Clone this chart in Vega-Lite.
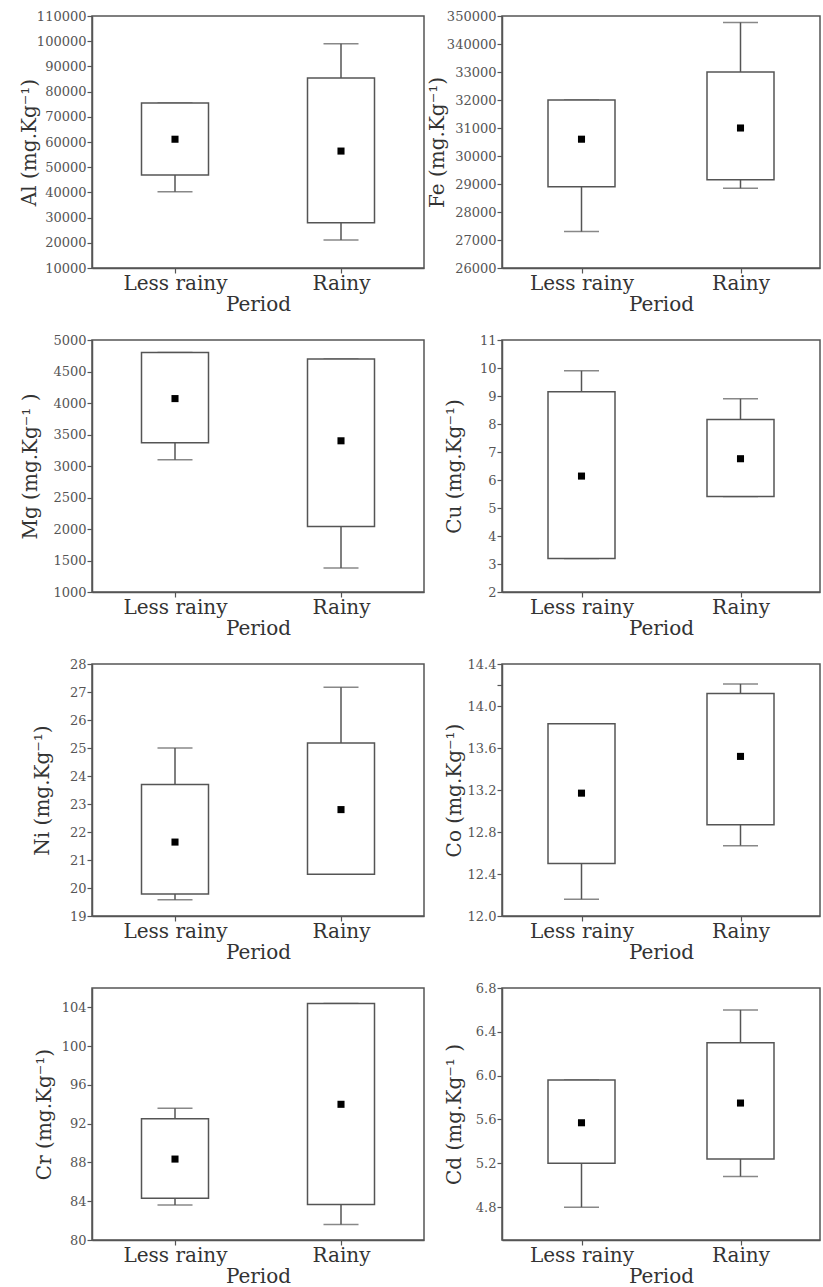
{
  "$schema": "https://vega.github.io/schema/vega-lite/v6.json",
  "padding": {"left": 18, "top": 9, "right": 2, "bottom": 2},
  "background": "white",
  "datasets": {
    "stats": [
      {"element": "Al", "period": "Less rainy", "min": 40300, "q1": 46900, "mean": 61100, "q3": 75500, "max": 75500},
      {"element": "Al", "period": "Rainy", "min": 21100, "q1": 28000, "mean": 56400, "q3": 85400, "max": 99000},
      {"element": "Fe", "period": "Less rainy", "min": 27300, "q1": 28900, "mean": 30600, "q3": 32000, "max": 32000},
      {"element": "Fe", "period": "Rainy", "min": 28850, "q1": 29150, "mean": 31000, "q3": 33000, "max": 34770},
      {"element": "Mg", "period": "Less rainy", "min": 3100, "q1": 3370, "mean": 4070, "q3": 4800, "max": 4800},
      {"element": "Mg", "period": "Rainy", "min": 1380, "q1": 2040, "mean": 3400, "q3": 4700, "max": 4700},
      {"element": "Cu", "period": "Less rainy", "min": 3.2, "q1": 3.2, "mean": 6.14, "q3": 9.15, "max": 9.9},
      {"element": "Cu", "period": "Rainy", "min": 5.41, "q1": 5.41, "mean": 6.76, "q3": 8.16, "max": 8.9},
      {"element": "Ni", "period": "Less rainy", "min": 19.58, "q1": 19.79, "mean": 21.64, "q3": 23.7, "max": 25.0},
      {"element": "Ni", "period": "Rainy", "min": 20.49, "q1": 20.49, "mean": 22.8, "q3": 25.18, "max": 27.17},
      {"element": "Co", "period": "Less rainy", "min": 12.16, "q1": 12.5, "mean": 13.17, "q3": 13.83, "max": 13.83},
      {"element": "Co", "period": "Rainy", "min": 12.67, "q1": 12.87, "mean": 13.52, "q3": 14.12, "max": 14.21},
      {"element": "Cr", "period": "Less rainy", "min": 83.6, "q1": 84.3, "mean": 88.35, "q3": 92.5, "max": 93.6},
      {"element": "Cr", "period": "Rainy", "min": 81.6, "q1": 83.65, "mean": 94.0, "q3": 104.4, "max": 104.4},
      {"element": "Cd", "period": "Less rainy", "min": 4.8, "q1": 5.2, "mean": 5.57, "q3": 5.96, "max": 5.96},
      {"element": "Cd", "period": "Rainy", "min": 5.08, "q1": 5.24, "mean": 5.75, "q3": 6.3, "max": 6.6}
    ]
  },
  "data": {"name": "stats"},
  "columns": 2,
  "bounds": "flush",
  "spacing": {"row": 72, "column": 78},
  "concat": [
    {
      "width": 332, "height": 252,
      "transform": [{"filter": "datum.element === 'Al'"}],
      "encoding": {"x": {"field": "period", "type": "nominal", "sort": ["Less rainy", "Rainy"], "scale": {"type": "point", "padding": 0.5}, "title": "Period"}},
      "layer": [
        {"mark": {"type": "rule", "color": "#555", "strokeWidth": 1.5},
         "encoding": {"y": {"field": "min", "type": "quantitative", "scale": {"domain": [10000, 110000], "nice": false, "zero": false}, "title": "Al (mg.Kg⁻¹)",
           "axis": {"values": [10000, 20000, 30000, 40000, 50000, 60000, 70000, 80000, 90000, 100000, 110000], "tickCount": 30, "format": "d", "titleX": -63, "titleY": 126}},
           "y2": {"field": "max"}}},
        {"mark": {"type": "tick", "color": "#555", "size": 35, "thickness": 1.5}, "encoding": {"y": {"field": "min", "type": "quantitative"}}},
        {"mark": {"type": "tick", "color": "#555", "size": 35, "thickness": 1.5}, "encoding": {"y": {"field": "max", "type": "quantitative"}}},
        {"mark": {"type": "bar", "width": 67, "fill": "white", "stroke": "#555", "strokeWidth": 1.5}, "encoding": {"y": {"field": "q1", "type": "quantitative"}, "y2": {"field": "q3"}}},
        {"mark": {"type": "point", "shape": "square", "filled": true, "color": "black", "size": 50, "opacity": 1}, "encoding": {"y": {"field": "mean", "type": "quantitative"}}}
      ]
    },
    {
      "width": 318, "height": 252,
      "transform": [{"filter": "datum.element === 'Fe'"}],
      "encoding": {"x": {"field": "period", "type": "nominal", "sort": ["Less rainy", "Rainy"], "scale": {"type": "point", "padding": 0.5}, "title": "Period"}},
      "layer": [
        {"mark": {"type": "rule", "color": "#555", "strokeWidth": 1.5},
         "encoding": {"y": {"field": "min", "type": "quantitative", "scale": {"domain": [26000, 35000], "nice": false, "zero": false}, "title": "Fe (mg.Kg⁻¹)",
           "axis": {"values": [26000, 27000, 28000, 29000, 30000, 31000, 32000, 33000, 34000, 35000], "tickCount": 30, "format": "d", "labelExpr": "datum.value == 34000 ? '340000' : datum.value == 35000 ? '350000' : datum.label", "titleX": -65, "titleY": 126}},
           "y2": {"field": "max"}}},
        {"mark": {"type": "tick", "color": "#555", "size": 35, "thickness": 1.5}, "encoding": {"y": {"field": "min", "type": "quantitative"}}},
        {"mark": {"type": "tick", "color": "#555", "size": 35, "thickness": 1.5}, "encoding": {"y": {"field": "max", "type": "quantitative"}}},
        {"mark": {"type": "bar", "width": 67, "fill": "white", "stroke": "#555", "strokeWidth": 1.5}, "encoding": {"y": {"field": "q1", "type": "quantitative"}, "y2": {"field": "q3"}}},
        {"mark": {"type": "point", "shape": "square", "filled": true, "color": "black", "size": 50, "opacity": 1}, "encoding": {"y": {"field": "mean", "type": "quantitative"}}}
      ]
    },
    {
      "width": 332, "height": 252,
      "transform": [{"filter": "datum.element === 'Mg'"}],
      "encoding": {"x": {"field": "period", "type": "nominal", "sort": ["Less rainy", "Rainy"], "scale": {"type": "point", "padding": 0.5}, "title": "Period"}},
      "layer": [
        {"mark": {"type": "rule", "color": "#555", "strokeWidth": 1.5},
         "encoding": {"y": {"field": "min", "type": "quantitative", "scale": {"domain": [1000, 5000], "nice": false, "zero": false}, "title": "Mg (mg.Kg⁻¹ )",
           "axis": {"values": [1000, 1500, 2000, 2500, 3000, 3500, 4000, 4500, 5000], "tickCount": 30, "format": "d", "titleX": -62, "titleY": 126}},
           "y2": {"field": "max"}}},
        {"mark": {"type": "tick", "color": "#555", "size": 35, "thickness": 1.5}, "encoding": {"y": {"field": "min", "type": "quantitative"}}},
        {"mark": {"type": "tick", "color": "#555", "size": 35, "thickness": 1.5}, "encoding": {"y": {"field": "max", "type": "quantitative"}}},
        {"mark": {"type": "bar", "width": 67, "fill": "white", "stroke": "#555", "strokeWidth": 1.5}, "encoding": {"y": {"field": "q1", "type": "quantitative"}, "y2": {"field": "q3"}}},
        {"mark": {"type": "point", "shape": "square", "filled": true, "color": "black", "size": 50, "opacity": 1}, "encoding": {"y": {"field": "mean", "type": "quantitative"}}}
      ]
    },
    {
      "width": 318, "height": 252,
      "transform": [{"filter": "datum.element === 'Cu'"}],
      "encoding": {"x": {"field": "period", "type": "nominal", "sort": ["Less rainy", "Rainy"], "scale": {"type": "point", "padding": 0.5}, "title": "Period"}},
      "layer": [
        {"mark": {"type": "rule", "color": "#555", "strokeWidth": 1.5},
         "encoding": {"y": {"field": "min", "type": "quantitative", "scale": {"domain": [2, 11], "nice": false, "zero": false}, "title": "Cu (mg.Kg⁻¹)",
           "axis": {"values": [2, 3, 4, 5, 6, 7, 8, 9, 10, 11], "tickCount": 30, "format": "d", "titleX": -48, "titleY": 126}},
           "y2": {"field": "max"}}},
        {"mark": {"type": "tick", "color": "#555", "size": 35, "thickness": 1.5}, "encoding": {"y": {"field": "min", "type": "quantitative"}}},
        {"mark": {"type": "tick", "color": "#555", "size": 35, "thickness": 1.5}, "encoding": {"y": {"field": "max", "type": "quantitative"}}},
        {"mark": {"type": "bar", "width": 67, "fill": "white", "stroke": "#555", "strokeWidth": 1.5}, "encoding": {"y": {"field": "q1", "type": "quantitative"}, "y2": {"field": "q3"}}},
        {"mark": {"type": "point", "shape": "square", "filled": true, "color": "black", "size": 50, "opacity": 1}, "encoding": {"y": {"field": "mean", "type": "quantitative"}}}
      ]
    },
    {
      "width": 332, "height": 252,
      "transform": [{"filter": "datum.element === 'Ni'"}],
      "encoding": {"x": {"field": "period", "type": "nominal", "sort": ["Less rainy", "Rainy"], "scale": {"type": "point", "padding": 0.5}, "title": "Period"}},
      "layer": [
        {"mark": {"type": "rule", "color": "#555", "strokeWidth": 1.5},
         "encoding": {"y": {"field": "min", "type": "quantitative", "scale": {"domain": [19, 28], "nice": false, "zero": false}, "title": "Ni (mg.Kg⁻¹)",
           "axis": {"values": [19, 20, 21, 22, 23, 24, 25, 26, 27, 28], "tickCount": 30, "format": "d", "titleX": -50, "titleY": 126}},
           "y2": {"field": "max"}}},
        {"mark": {"type": "tick", "color": "#555", "size": 35, "thickness": 1.5}, "encoding": {"y": {"field": "min", "type": "quantitative"}}},
        {"mark": {"type": "tick", "color": "#555", "size": 35, "thickness": 1.5}, "encoding": {"y": {"field": "max", "type": "quantitative"}}},
        {"mark": {"type": "bar", "width": 67, "fill": "white", "stroke": "#555", "strokeWidth": 1.5}, "encoding": {"y": {"field": "q1", "type": "quantitative"}, "y2": {"field": "q3"}}},
        {"mark": {"type": "point", "shape": "square", "filled": true, "color": "black", "size": 50, "opacity": 1}, "encoding": {"y": {"field": "mean", "type": "quantitative"}}}
      ]
    },
    {
      "width": 318, "height": 252,
      "transform": [{"filter": "datum.element === 'Co'"}],
      "encoding": {"x": {"field": "period", "type": "nominal", "sort": ["Less rainy", "Rainy"], "scale": {"type": "point", "padding": 0.5}, "title": "Period"}},
      "layer": [
        {"mark": {"type": "rule", "color": "#555", "strokeWidth": 1.5},
         "encoding": {"y": {"field": "min", "type": "quantitative", "scale": {"domain": [12, 14.4], "nice": false, "zero": false}, "title": "Co (mg.Kg⁻¹)",
           "axis": {"values": [12, 12.4, 12.8, 13.2, 13.6, 14, 14.2, 14.4], "tickCount": 30, "format": ".1f", "labelExpr": "datum.value == 14.2 ? '' : datum.label", "titleX": -48, "titleY": 126}},
           "y2": {"field": "max"}}},
        {"mark": {"type": "tick", "color": "#555", "size": 35, "thickness": 1.5}, "encoding": {"y": {"field": "min", "type": "quantitative"}}},
        {"mark": {"type": "tick", "color": "#555", "size": 35, "thickness": 1.5}, "encoding": {"y": {"field": "max", "type": "quantitative"}}},
        {"mark": {"type": "bar", "width": 67, "fill": "white", "stroke": "#555", "strokeWidth": 1.5}, "encoding": {"y": {"field": "q1", "type": "quantitative"}, "y2": {"field": "q3"}}},
        {"mark": {"type": "point", "shape": "square", "filled": true, "color": "black", "size": 50, "opacity": 1}, "encoding": {"y": {"field": "mean", "type": "quantitative"}}}
      ]
    },
    {
      "width": 332, "height": 252,
      "transform": [{"filter": "datum.element === 'Cr'"}],
      "encoding": {"x": {"field": "period", "type": "nominal", "sort": ["Less rainy", "Rainy"], "scale": {"type": "point", "padding": 0.5}, "title": "Period"}},
      "layer": [
        {"mark": {"type": "rule", "color": "#555", "strokeWidth": 1.5},
         "encoding": {"y": {"field": "min", "type": "quantitative", "scale": {"domain": [80, 106], "nice": false, "zero": false}, "title": "Cr (mg.Kg⁻¹)",
           "axis": {"values": [80, 84, 88, 92, 96, 100, 104], "tickCount": 30, "format": "d", "titleX": -48, "titleY": 126}},
           "y2": {"field": "max"}}},
        {"mark": {"type": "tick", "color": "#555", "size": 35, "thickness": 1.5}, "encoding": {"y": {"field": "min", "type": "quantitative"}}},
        {"mark": {"type": "tick", "color": "#555", "size": 35, "thickness": 1.5}, "encoding": {"y": {"field": "max", "type": "quantitative"}}},
        {"mark": {"type": "bar", "width": 67, "fill": "white", "stroke": "#555", "strokeWidth": 1.5}, "encoding": {"y": {"field": "q1", "type": "quantitative"}, "y2": {"field": "q3"}}},
        {"mark": {"type": "point", "shape": "square", "filled": true, "color": "black", "size": 50, "opacity": 1}, "encoding": {"y": {"field": "mean", "type": "quantitative"}}}
      ]
    },
    {
      "width": 318, "height": 252,
      "transform": [{"filter": "datum.element === 'Cd'"}],
      "encoding": {"x": {"field": "period", "type": "nominal", "sort": ["Less rainy", "Rainy"], "scale": {"type": "point", "padding": 0.5}, "title": "Period"}},
      "layer": [
        {"mark": {"type": "rule", "color": "#555", "strokeWidth": 1.5},
         "encoding": {"y": {"field": "min", "type": "quantitative", "scale": {"domain": [4.5, 6.8], "nice": false, "zero": false}, "title": "Cd (mg.Kg⁻¹ )",
           "axis": {"values": [4.8, 5.2, 5.6, 6.0, 6.4, 6.8], "tickCount": 30, "format": ".1f", "titleX": -48, "titleY": 126}},
           "y2": {"field": "max"}}},
        {"mark": {"type": "tick", "color": "#555", "size": 35, "thickness": 1.5}, "encoding": {"y": {"field": "min", "type": "quantitative"}}},
        {"mark": {"type": "tick", "color": "#555", "size": 35, "thickness": 1.5}, "encoding": {"y": {"field": "max", "type": "quantitative"}}},
        {"mark": {"type": "bar", "width": 67, "fill": "white", "stroke": "#555", "strokeWidth": 1.5}, "encoding": {"y": {"field": "q1", "type": "quantitative"}, "y2": {"field": "q3"}}},
        {"mark": {"type": "point", "shape": "square", "filled": true, "color": "black", "size": 50, "opacity": 1}, "encoding": {"y": {"field": "mean", "type": "quantitative"}}}
      ]
    }
  ],
  "config": {
    "font": "DejaVu Serif",
    "view": {"stroke": "#555", "strokeWidth": 1.5},
    "axis": {"grid": false, "domainColor": "#555", "domainWidth": 1.5, "tickColor": "#555", "tickWidth": 1.2, "labelFont": "DejaVu Serif", "titleFont": "DejaVu Serif", "titleFontWeight": "normal", "titleColor": "#333", "labelOverlap": false, "labelFlush": false, "labelBound": false},
    "axisX": {"labelAngle": 0, "labelFontSize": 20, "labelColor": "#333", "tickSize": 5, "labelPadding": 0, "titleFontSize": 20, "titlePadding": 1},
    "axisY": {"labelFontSize": 13, "labelColor": "#555", "tickSize": 5, "labelPadding": 1, "titleFontSize": 20, "titleAlign": "center", "titleBaseline": "middle", "titleAngle": -90, "tickCount": 30}
  }
}
